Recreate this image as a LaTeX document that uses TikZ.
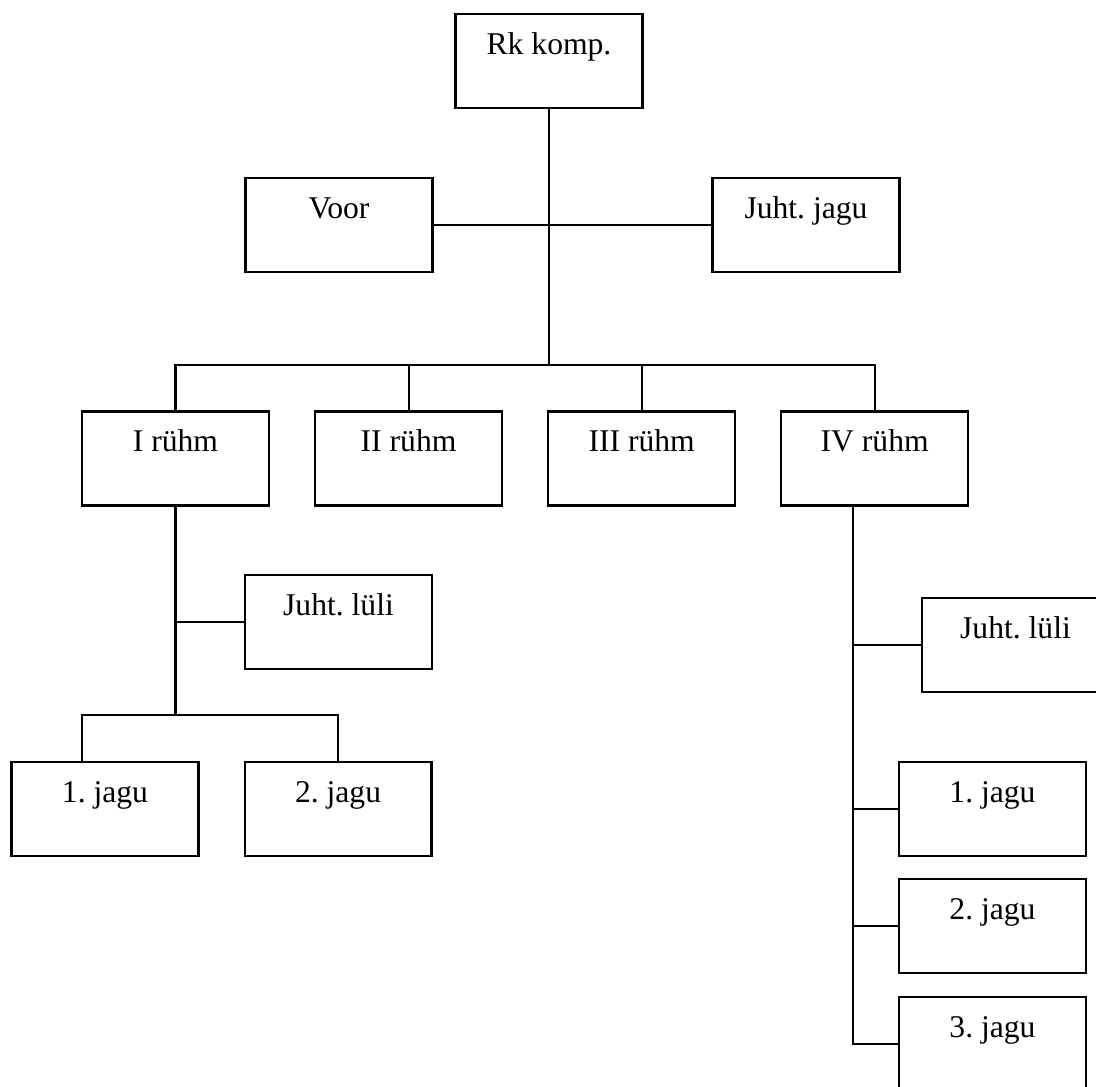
\documentclass[tikz,border=0pt]{standalone}
\usepackage{fontspec}
\setmainfont{Liberation Serif}
\usetikzlibrary{positioning, calc}

\begin{document}
\begin{tikzpicture}[
        x=0.02cm, y=-0.02cm,
        box/.style={rectangle, draw, line width=1.2pt, minimum width=3.74cm, minimum height=1.88cm, inner ysep=0pt, text height=0.8cm, text depth=1.08cm, font=\fontsize{18}{21}\selectfont},
        link/.style={line width=1.2pt}
    ]
        \useasboundingbox (0,0) rectangle (1096,1086);
        \clip (0,0) rectangle (1096,1086);

        % 1. Company level
        \node (rk) [box] at (549,61) {Rk komp.};
        \node (voor) [box] at (339,225) {Voor};
        \node (juhtjagu) [box] at (806,225) {Juht.\ jagu};

        % 2. Platoons
        \node (r1) [box] at (175.5,458.5) {I rühm};
        \node (r2) [box, right=0.88cm of r1] {II rühm};
        \node (r3) [box, right=0.88cm of r2] {III rühm};
        \node (r4) [box, right=0.88cm of r3] {IV rühm};

        % 3. Under I rühm
        \node (lluli) [box] at (338.5,622) {Juht.\ lüli};
        \node (ljagu1) [box] at (105,809) {1.\ jagu};
        \node (ljagu2) [box, right=0.88cm of ljagu1] {2.\ jagu};

        % 4. Under IV rühm
        \node (rluli) [box] at (1015.5,645) {Juht.\ lüli};
        \node (rjagu1) [box] at (992.5,809) {1.\ jagu};
        \node (rjagu2) [box, below=0.42cm of rjagu1] {2.\ jagu};
        \node (rjagu3) [box, below=0.44cm of rjagu2] {3.\ jagu};

        % Connections
        \coordinate (bus) at (549,365);
        \draw [link] (rk) -- (bus);
        \draw [link] (voor) -- (juhtjagu);
        \draw [link] (r1) |- (bus) -| (r4);
        \draw [link] (r2) -- (r2 |- bus);
        \draw [link] (r3) -- (r3 |- bus);

        \coordinate (lbus) at (175.5,715);
        \coordinate (ldrop) at (82,715);
        \draw [link] (r1) -- (lbus);
        \draw [link] (lluli) -- (lluli -| lbus);
        \draw [link] (ljagu1.north -| ldrop) |- (lbus) -| (ljagu2);

        \coordinate (rtrunk) at (853,1044);
        \draw [link] (r4.south -| rtrunk) |- (rjagu3);
        \draw [link] (rluli) -- (rluli -| rtrunk);
        \draw [link] (rjagu1) -- (rjagu1 -| rtrunk);
        \draw [link] (rjagu2) -- (rjagu2 -| rtrunk);

    \end{tikzpicture}
\end{document}
